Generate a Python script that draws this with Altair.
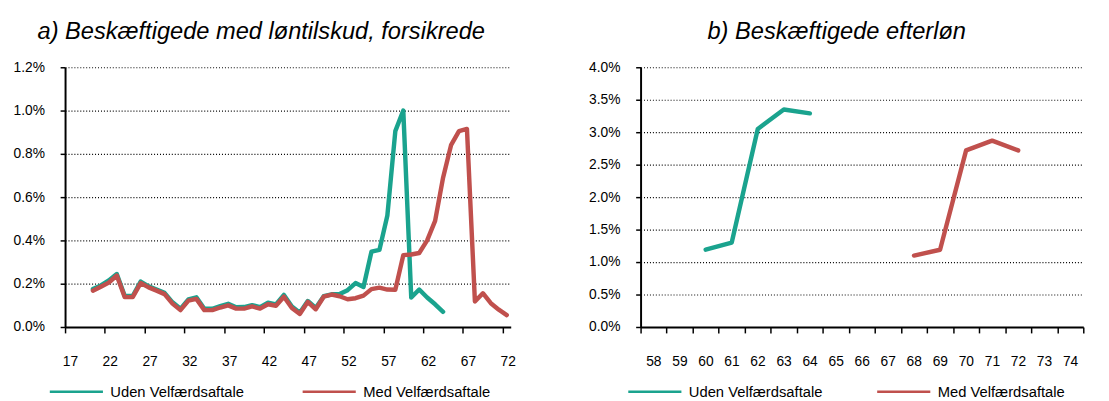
import altair as alt
import pandas as pd

FONT = "Liberation Sans"

SERIES = ["Uden Velfærdsaftale", "Med Velfærdsaftale"]
COLORS = ["#1aa38e", "#c0504d"]

# Panel a) ages and values (percent)
ages_a_uden = list(range(20, 65))
uden_a = [0.175, 0.192, 0.215, 0.245, 0.143, 0.143, 0.210, 0.188, 0.173, 0.158,
          0.114, 0.084, 0.128, 0.137, 0.084, 0.084, 0.096, 0.107, 0.091, 0.092,
          0.101, 0.092, 0.112, 0.104, 0.148, 0.095, 0.066, 0.120, 0.088, 0.142,
          0.151, 0.152, 0.170, 0.203, 0.185, 0.348, 0.356, 0.515, 0.905, 1.000,
          0.136, 0.173, 0.136, 0.105, 0.070]
ages_a_med = list(range(20, 73))
med_a = [0.168, 0.186, 0.205, 0.238, 0.138, 0.138, 0.203, 0.183, 0.168, 0.152,
         0.108, 0.078, 0.122, 0.130, 0.078, 0.078, 0.090, 0.100, 0.085, 0.085,
         0.095, 0.085, 0.105, 0.098, 0.140, 0.088, 0.060, 0.116, 0.082, 0.140,
         0.150, 0.142, 0.128, 0.133, 0.145, 0.175, 0.182, 0.173, 0.172, 0.332,
         0.335, 0.342, 0.400, 0.490, 0.690, 0.840, 0.905, 0.915, 0.118, 0.156,
         0.110, 0.080, 0.055]

# Panel b)
ages_b_uden = [60, 61, 62, 63, 64]
uden_b = [1.19, 1.30, 3.05, 3.35, 3.29]
ages_b_med = [68, 69, 70, 71, 72]
med_b = [1.10, 1.19, 2.72, 2.87, 2.72]

# axis tick positions (band boundaries) and gridline values
a_xticks = [16.5 + 5 * i for i in range(12)]
b_xticks = [57.5 + i for i in range(18)]
a_yticks = [0.0, 0.2, 0.4, 0.6, 0.8, 1.0, 1.2]
b_yticks = [0.0, 0.5, 1.0, 1.5, 2.0, 2.5, 3.0, 3.5, 4.0]


def frame(ages, vals, name):
    return pd.DataFrame({"alder": ages, "pct": vals, "serie": name})


def panel(d_uden, d_med, xdom, xticks, xmax_label, label_off, ydom, yticks,
          title, title_dx, width, legend_x, col_pad):
    color = alt.Color(
        "serie:N",
        scale=alt.Scale(domain=SERIES, range=COLORS),
        legend=alt.Legend(
            title=None, orient="none", legendX=legend_x, legendY=301,
            direction="horizontal", symbolType="stroke", symbolSize=2916,
            symbolStrokeWidth=2.5, labelFont=FONT, labelFontSize=15,
            labelColor="black", columnPadding=col_pad, labelOffset=6,
            padding=0, labelLimit=300,
        ),
    )
    x = alt.X(
        "alder:Q",
        scale=alt.Scale(domain=xdom, nice=False, zero=False),
        axis=alt.Axis(
            values=xticks,
            labelExpr=f"datum.value > {xmax_label} ? '' : '' + (datum.value + 0.5)",
            labelOffset=label_off, labelFlush=False, labelOverlap=False,
            grid=False, title=None, tickSize=6, tickWidth=1.5, tickColor="black",
            domainColor="black", domainWidth=2, labelPadding=22,
            labelFont=FONT, labelFontSize=14, labelColor="black",
        ),
    )
    y = alt.Y(
        "pct:Q",
        scale=alt.Scale(domain=ydom, nice=False, zero=True),
        axis=alt.Axis(
            values=yticks,
            labelExpr="format(datum.value, '.1f') + '%'",
            labelFlush=False, labelOverlap=False, title=None,
            tickSize=5, tickWidth=1.5, tickColor="black",
            domainColor="black", domainWidth=2, labelPadding=16,
            labelFont=FONT, labelFontSize=14, labelColor="black",
            grid=True, gridColor="#000000", gridDash=[1, 2], gridWidth=1.2,
        ),
    )
    mk = dict(strokeWidth=4.5, strokeCap="round", strokeJoin="round")
    l1 = alt.Chart(d_uden).mark_line(**mk).encode(x=x, y=y, color=color)
    l2 = alt.Chart(d_med).mark_line(**mk).encode(x=x, y=y, color=color)
    return alt.layer(l1, l2).properties(
        width=width, height=264,
        title=alt.TitleParams(
            title, anchor="start", frame="group", dx=title_dx, offset=17,
            font=FONT, fontSize=24, fontStyle="italic", fontWeight="normal",
            color="black",
        ),
    )


left = panel(frame(ages_a_uden, uden_a, SERIES[0]), frame(ages_a_med, med_a, SERIES[1]),
             [16.5, 72.5], a_xticks, 72, 5, [0, 1.2], a_yticks,
             "a) Beskæftigede med løntilskud, forsikrede", -28, 453, -17, 54)
right = panel(frame(ages_b_uden, uden_b, SERIES[0]), frame(ages_b_med, med_b, SERIES[1]),
              [57.5, 74.5], b_xticks, 74, 13, [0, 4.0], b_yticks,
              "b) Beskæftigede efterløn", 68, 450, -14, 50)

chart = (
    alt.hconcat(left, right, spacing=132, bounds="flush")
    .resolve_scale(color="independent")
    .resolve_legend(color="independent")
    .properties(padding={"left": 5, "top": 9, "right": 5, "bottom": 0})
    .configure_view(strokeWidth=0)
)

chart.save("out.html", embed_options={"renderer": "svg", "actions": False})
